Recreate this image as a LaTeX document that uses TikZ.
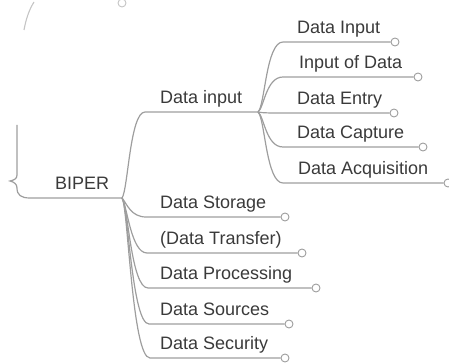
\documentclass[tikz,border=0pt]{standalone}
\usepackage{fontspec}
\setmainfont{Liberation Sans}
\definecolor{linegray}{RGB}{158,158,158}
\definecolor{textgray}{RGB}{58,58,58}
\begin{document}
\begin{tikzpicture}[x=1pt,y=-1pt,
  link/.style={draw=linegray,line width=1.2pt},
  faint/.style={draw=linegray!60,line width=1.1pt},
  knob/.style={circle,draw=linegray,fill=white,line width=0.9pt,minimum size=8pt,inner sep=0pt},
  topic/.style={anchor=base west,inner sep=0pt,text=textgray,font=\fontsize{18}{20}\selectfont}]
\useasboundingbox (0,0) rectangle (449,363);

% fragments of the parent level, cut by the frame
\draw[faint] (24,30) .. controls (26,19) and (29,10) .. (34,2);
\node[knob,draw=linegray!60] (topknob) at (122,3) {};

% branch points
\coordinate (root) at (122,198);
\coordinate (inbp) at (258,112);

% root topic and its brace
\node[topic] (biper) at (55,190) {BIPER};
\draw[link] (17,125) -- (17,175) .. controls (17,179) and (14,180) .. (10,181)
  .. controls (14,182) and (17,184) .. (17,188)
  .. controls (17,195) and (21,198) .. (30,198) -- (root);

% "Data input" branch
\node[topic] (din) at (160,103.5) {Data input};
\coordinate (dinL) at (145,112);
\draw[link] (root) .. controls (128,190) and (130,112) .. (dinL) -- (inbp);

% children of "Data input"
\node[topic] (u1) at (297,33.5) {Data Input};
\node[topic] (u2) at (299,68.5) {Input of Data};
\node[topic] (u3) at (297,104.5) {Data Entry};
\node[topic] (u4) at (297,138.5) {Data Capture};
\node[topic] (u5) at (298,174.5) {Data Acquisition};
\node[knob] (k1) at (395,42) {};
\node[knob] (k2) at (418,77) {};
\node[knob] (k3) at (394,113) {};
\node[knob] (k4) at (423,147) {};
\node[knob] (k5) at (448,183) {};
\coordinate (e1) at (283,42);
\coordinate (e2) at (283,77);
\coordinate (e4) at (283,147);
\coordinate (e5) at (283,183);
\draw[link] (inbp) .. controls (265,106) and (266,42) .. (e1) -- (k1);
\draw[link] (inbp) .. controls (264,108) and (266,77) .. (e2) -- (k2);
\draw[link] (inbp) .. controls (262,113) and (270,113) .. (283,113) -- (k3);
\draw[link] (inbp) .. controls (264,116) and (266,147) .. (e4) -- (k4);
\draw[link] (inbp) .. controls (265,118) and (266,183) .. (e5) -- (k5);

% remaining children of the root
\node[topic] (l1) at (160,208.5) {Data Storage};
\node[topic] (l2) at (160,244.5) {(Data Transfer)};
\node[topic] (l3) at (160,279.5) {Data Processing};
\node[topic] (l4) at (160,315.5) {Data Sources};
\node[topic] (l5) at (160,349.5) {Data Security};
\node[knob] (m1) at (285,217) {};
\node[knob] (m2) at (302,253) {};
\node[knob] (m3) at (316,288) {};
\node[knob] (m4) at (289,324) {};
\node[knob] (m5) at (285,358) {};
\coordinate (f1) at (146,217);
\coordinate (f2) at (147,253);
\coordinate (f3) at (148,288);
\coordinate (f4) at (149,324);
\coordinate (f5) at (150,358);
\draw[link] (root) .. controls (127,204) and (131,217) .. (f1) -- (m1);
\draw[link] (root) .. controls (127,205) and (131,253) .. (f2) -- (m2);
\draw[link] (root) .. controls (128,205) and (131,288) .. (f3) -- (m3);
\draw[link] (root) .. controls (128,205) and (132,324) .. (f4) -- (m4);
\draw[link] (root) .. controls (128,205) and (132,358) .. (f5) -- (m5);
\end{tikzpicture}
\end{document}
